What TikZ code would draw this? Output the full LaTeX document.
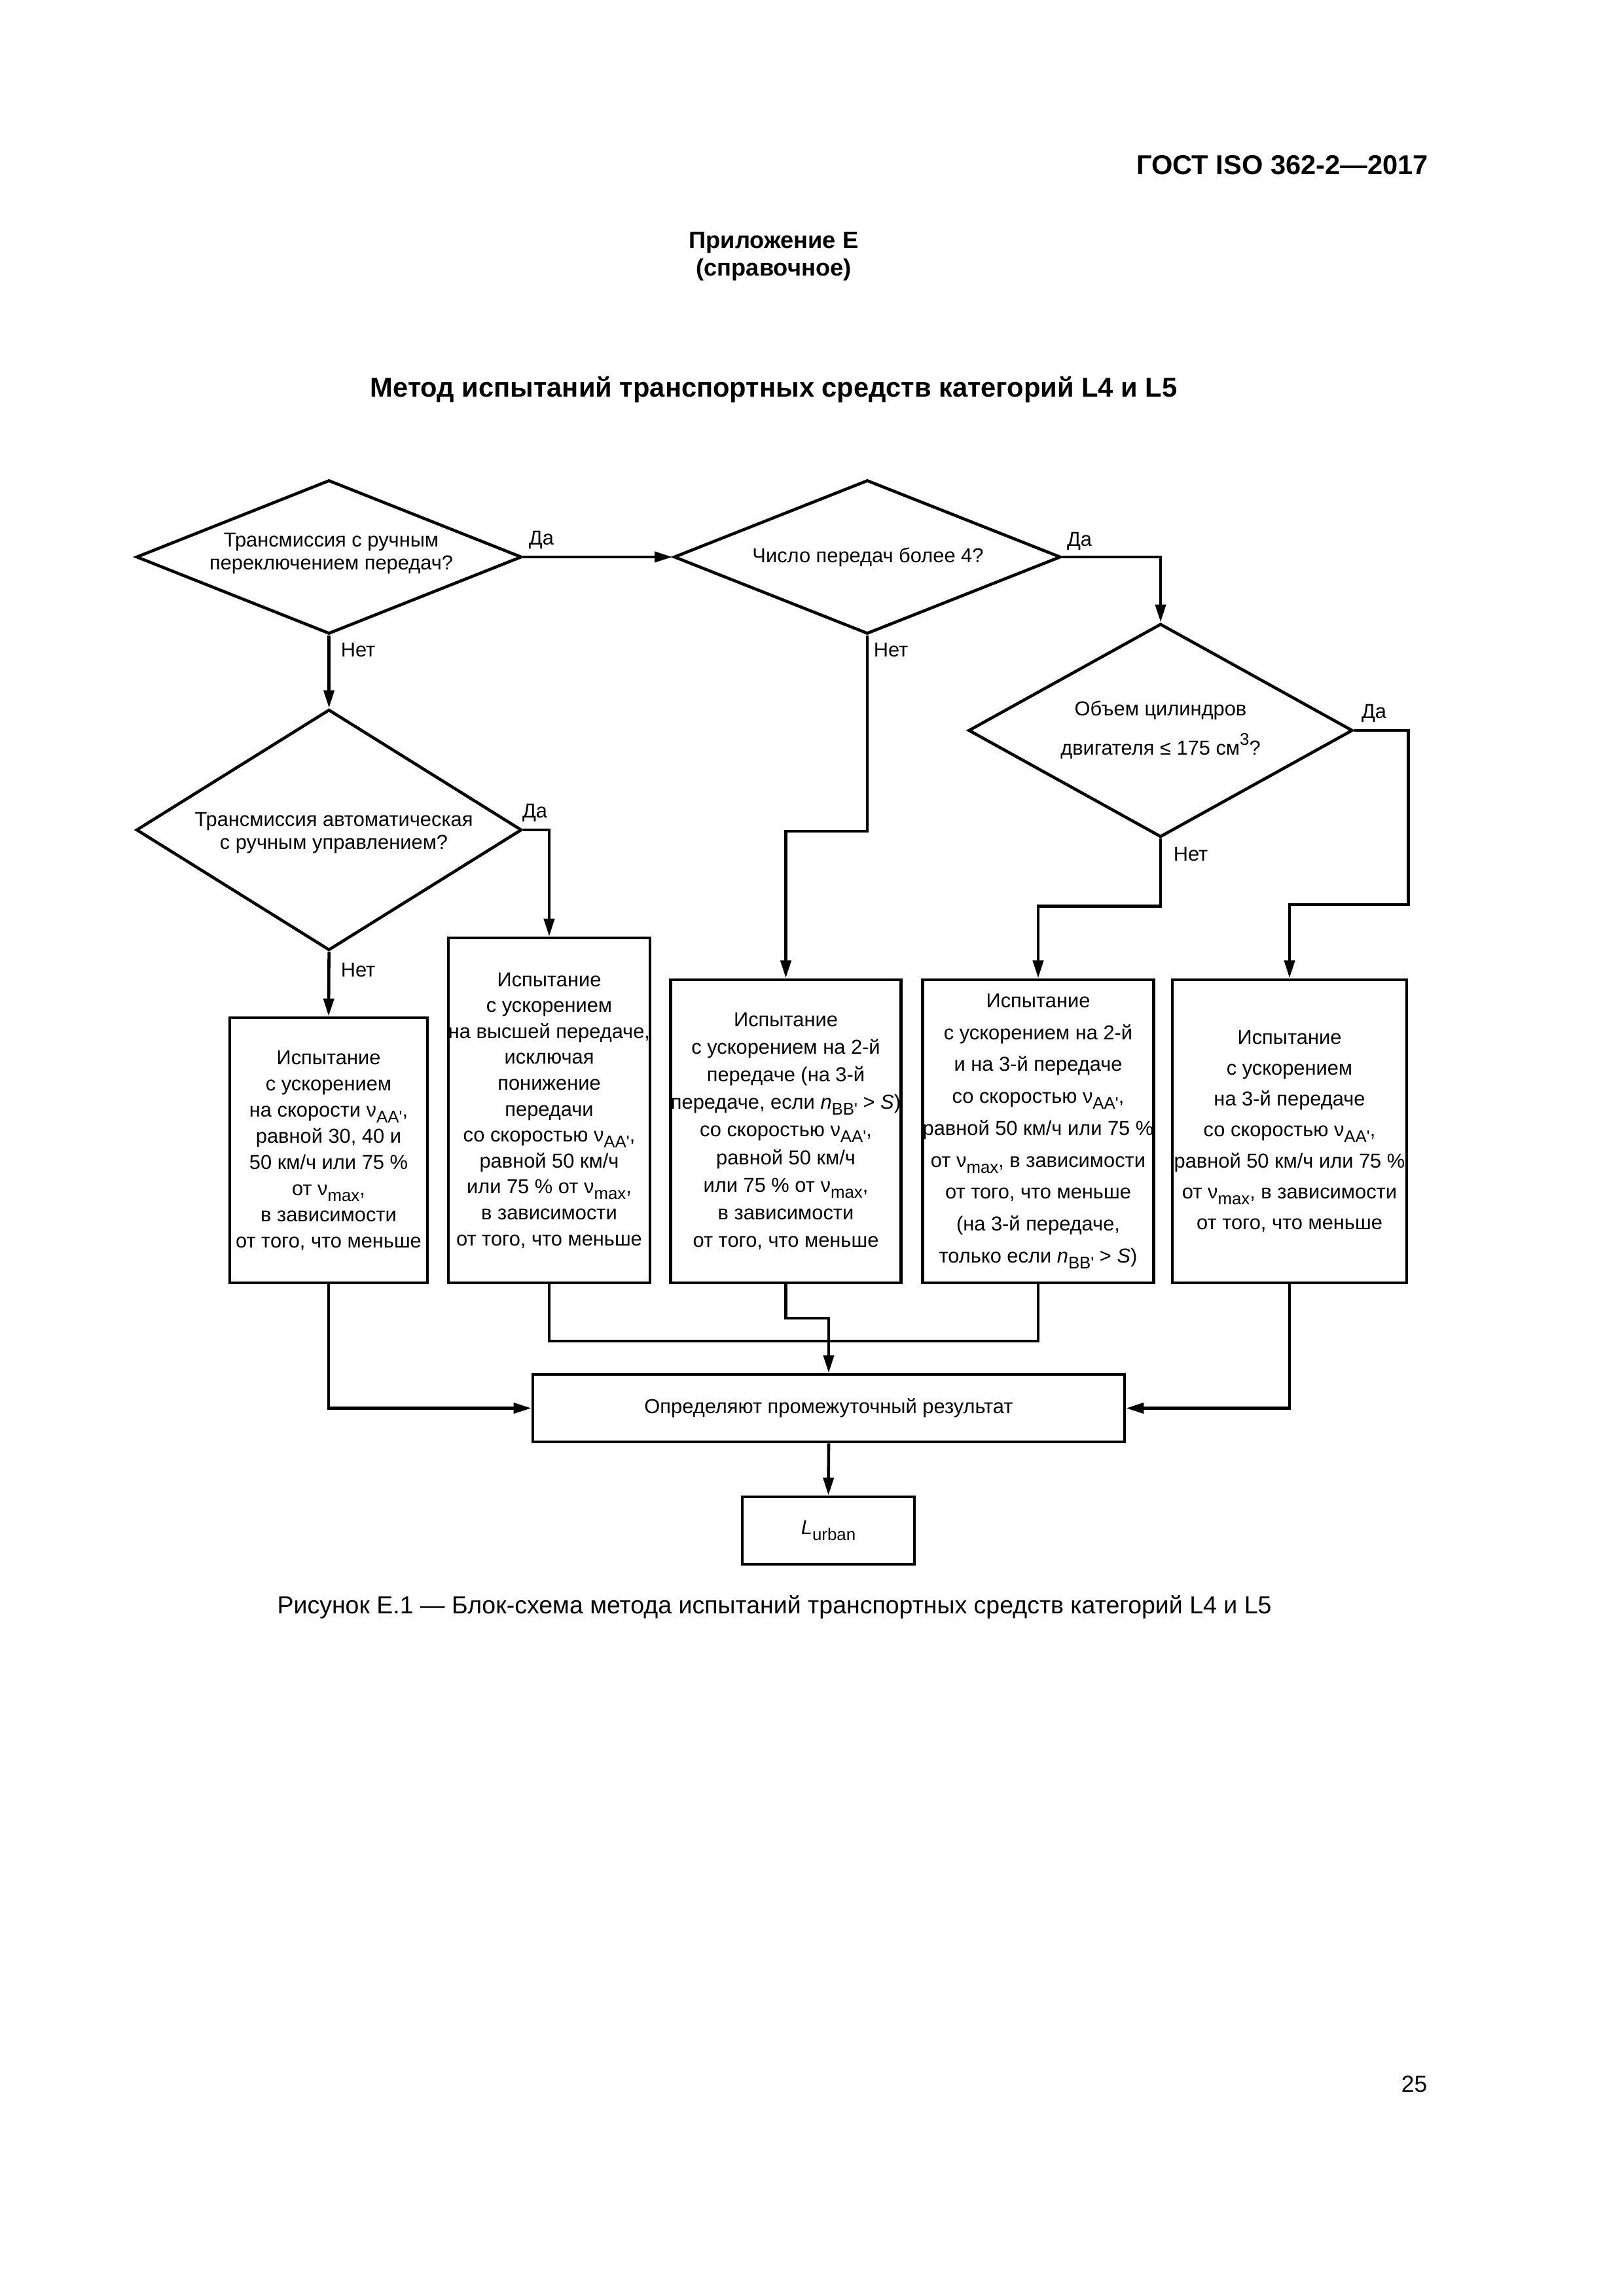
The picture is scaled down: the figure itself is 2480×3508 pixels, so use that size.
\documentclass[tikz,border=0pt]{standalone}
\usepackage{fontspec}
\setmainfont{Liberation Sans}
\usetikzlibrary{shapes.geometric,arrows.meta}
\newcommand\ssub[1]{\raisebox{-0.55ex}{\fontsize{6.2}{6.2}\selectfont #1}}
\newcommand\ssup[1]{\raisebox{0.9ex}{\fontsize{6.2}{6.2}\selectfont #1}}
\newcommand\qs{\textquotesingle}
\begin{document}
\begin{tikzpicture}[x=0.24pt,y=-0.24pt,
  ln/.style={line width=1.1pt},
  arr/.style={ln,-{Triangle[length=6.5pt,width=3.8pt]}},
  dia/.style={diamond,draw,ln,inner sep=0pt},
  dtext/.style={align=center,inner sep=0pt},
  box/.style={draw,ln,inner sep=0pt,align=center},
  lab/.style={inner sep=0pt,font=\fontsize{7.4}{8.4}\selectfont},
]
\fill[white] (0,0) rectangle (2480,3508);
\useasboundingbox (0,0) rectangle (2480,3508);

% page texts
\node[anchor=base east,inner sep=0pt,font=\bfseries\fontsize{10}{12}\selectfont] (hdr) at (2183,266.7) {ГОСТ ISO 362-2—2017};
\node[anchor=base,inner sep=0pt,font=\bfseries\fontsize{8.7}{10}\selectfont] (app) at (1182,380) {Приложение Е};
\node[anchor=base,inner sep=0pt,font=\bfseries\fontsize{8.7}{10}\selectfont] (appr) at (1182,421.7) {(справочное)};
\node[anchor=base,inner sep=0pt,font=\bfseries\fontsize{10}{12}\selectfont] (ttl) at (1182,606.7) {Метод испытаний транспортных средств категорий L4 и L5};
\node[anchor=base,inner sep=0pt,font=\fontsize{9}{11}\selectfont] (cap) at (1183,2465) {Рисунок Е.1 — Блок-схема метода испытаний транспортных средств категорий L4 и L5};
\node[anchor=base east,inner sep=0pt,font=\fontsize{8.5}{10}\selectfont] (pg) at (2181,3196) {25};

% diamonds
\node[dia,minimum width=141.36pt,minimum height=56.4pt] (d1) at (502.6,851) {};
\node[dtext,font=\fontsize{7.4}{8.4}\selectfont] (d1t) at (506,845.5) {Трансмиссия с ручным\\переключением передач?};
\node[dia,minimum width=141.84pt,minimum height=56.4pt] (d2) at (1325,851) {};
\node[dtext,font=\fontsize{7.4}{8.4}\selectfont] (d2t) at (1326,851) {Число передач более 4?};
\node[dia,minimum width=140.88pt,minimum height=78.24pt] (d3) at (1773,1116) {};
\node[dtext,font=\fontsize{7.4}{14.4}\selectfont] (d3t) at (1773,1115) {Объем цилиндров\\двигателя ≤ 175 см\ssup{3}?};
\node[dia,minimum width=141.36pt,minimum height=88.32pt] (d4) at (502.6,1268) {};
\node[dtext,font=\fontsize{7.4}{8.4}\selectfont] (d4t) at (510,1272.5) {Трансмиссия автоматическая\\с ручным управлением?};

% boxes
\node[box,minimum width=72.48pt,minimum height=97.2pt,font=\fontsize{7.4}{9.6}\selectfont] (b1) at (502,1757.5)
 {Испытание\\с ускорением\\на скорости ν\ssub{AA\qs},\\равной 30, 40 и\\50 км/ч или 75 \%\\от ν\ssub{max},\\в зависимости\\от того, что меньше};
\node[box,minimum width=71.52pt,minimum height=126.48pt,font=\fontsize{7.4}{9.5}\selectfont] (b2) at (839,1696.5)
 {Испытание\\с ускорением\\на высшей передаче,\\исключая\\понижение\\передачи\\со скоростью ν\ssub{AA\qs},\\равной 50 км/ч\\или 75 \% от ν\ssub{max},\\в зависимости\\от того, что меньше};
\node[box,minimum width=84.48pt,minimum height=111.12pt,font=\fontsize{7.4}{10.1}\selectfont] (b3) at (1200.5,1728.3)
 {Испытание\\с ускорением на 2-й\\передаче (на 3-й\\передаче, если \textit{n}\ssub{BB\qs} > \textit{S})\\со скоростью ν\ssub{AA\qs},\\равной 50 км/ч\\или 75 \% от ν\ssub{max},\\в зависимости\\от того, что меньше};
\node[box,minimum width=84.48pt,minimum height=111.12pt,font=\fontsize{7.4}{11.7}\selectfont] (b4) at (1586,1728.3)
 {Испытание\\с ускорением на 2-й\\и на 3-й передаче\\со скоростью ν\ssub{AA\qs},\\равной 50 км/ч или 75 \%\\от ν\ssub{max}, в зависимости\\от того, что меньше\\(на 3-й передаче,\\только если \textit{n}\ssub{BB\qs} > \textit{S})};
\node[box,minimum width=85.92pt,minimum height=111.12pt,font=\fontsize{7.4}{11.33}\selectfont] (b5) at (1970,1728.3)
 {Испытание\\с ускорением\\на 3-й передаче\\со скоростью ν\ssub{AA\qs},\\равной 50 км/ч или 75 \%\\от ν\ssub{max}, в зависимости\\от того, что меньше};
\node[box,minimum width=216.96pt,minimum height=24.72pt,font=\fontsize{7.4}{9}\selectfont] (r) at (1266,2151.5) {Определяют промежуточный результат};
\node[box,minimum width=63.12pt,minimum height=24.72pt,font=\fontsize{7.4}{9}\selectfont] (lu) at (1265.5,2338.5) {\textit{L}\ssub{urban}};

% helper coordinate
\coordinate (d3y) at (2151.5,1382);

% connectors
\draw[arr] (d1.east) -- (d2.west);
\draw[arr] (d1.south) -- (d4.north);
\draw[arr] (d2.east) -| (d3.north);
\draw[arr] (d2.south) -- ++(0,299) -| (b3.north);
\draw[arr] (d3.east) -| (d3y) -| (b5.north);
\draw[arr] (d3.south) -- ++(0,103) -| (b4.north);
\draw[arr] (d4.east) -| (b2.north);
\draw[arr] (d4.south) -- (b1.north);
\draw[arr] (b1.south) |- (r.west);
\draw[arr] (b5.south) |- (r.east);
\draw[arr] (b3.south) -- ++(0,51.7) -| (r.north);
\draw[ln] (b2.south) -- ++(0,86.7) -| (b4.south);
\draw[arr] (r.south) -- (lu.north);

% labels
\node[lab] (y1) at (827,825) {Да};
\node[lab] (n1) at (547,993) {Нет};
\node[lab] (y2) at (1649,826.5) {Да};
\node[lab] (n2) at (1361,992.6) {Нет};
\node[lab] (y3) at (2099,1089.5) {Да};
\node[lab] (n3) at (1819,1305) {Нет};
\node[lab] (y4) at (817,1241.7) {Да};
\node[lab] (n4) at (547,1481.7) {Нет};
\end{tikzpicture}
\end{document}
